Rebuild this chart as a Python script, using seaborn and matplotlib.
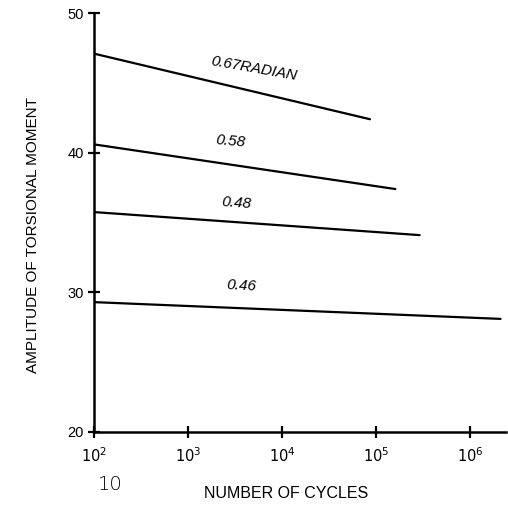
import matplotlib
matplotlib.use("Agg")
import matplotlib.pyplot as plt
import seaborn as sns
import pandas as pd
import numpy as np

sns.set_style("ticks")
plt.rcParams['font.family'] = ['Liberation Sans', 'DejaVu Sans']
plt.rcParams['text.color'] = 'black'
plt.rcParams['axes.labelcolor'] = 'black'

# Data
angles = ["0.67", "0.58", "0.48", "0.46"]
cycles_start = [1e2, 1e2, 1e2, 1e2]
cycles_end = [8.6e4, 1.6e5, 2.9e5, 2.1e6]
moment_start = [47.1, 40.6, 35.75, 29.3]
moment_end = [42.4, 37.4, 34.1, 28.1]
labels = ["0.67RADIAN", "0.58", "0.48", "0.46"]
label_x = [1.75e3, 2.8e3, 3.3e3, 3.7e3]
label_y = [46.6, 40.8, 36.4, 30.5]
label_rot = [-10, -5, -4, -3]
xticks = [1e2, 1e3, 1e4, 1e5, 1e6]
xticklabels = ["$10^{2}$", "$10^{3}$", "$10^{4}$", "$10^{5}$", "$10^{6}$"]
yticks = [20, 30, 40, 50]

rows = []
for a, x0, x1, y0, y1 in zip(angles, cycles_start, cycles_end, moment_start, moment_end):
    rows.append({"angle": a, "cycles": x0, "moment": y0})
    rows.append({"angle": a, "cycles": x1, "moment": y1})
df = pd.DataFrame(rows)

fig = plt.figure(figsize=(5.08, 5.05), dpi=100)
ax = fig.add_axes([0.185, 0.1446, 0.811, 0.8294])

sns.lineplot(data=df, x="cycles", y="moment", units="angle", estimator=None,
             color="black", linewidth=1.6, ax=ax, legend=False)
ax.set_xscale("log")
ax.set_xlim(1e2, 2.4e6)
ax.set_ylim(20, 50)
ax.set_xticks(xticks)
ax.set_xticklabels(xticklabels)
ax.set_yticks(yticks)
ax.minorticks_off()
ax.tick_params(axis="both", direction="inout", length=8, width=1.6, labelsize=10.5,
               colors="black", labelcolor="black")
ax.tick_params(axis="x", pad=6)
for s in ["top", "right"]:
    ax.spines[s].set_visible(False)
for s in ["left", "bottom"]:
    ax.spines[s].set_linewidth(1.8)
    ax.spines[s].set_color("black")

for t, x, y, r in zip(labels, label_x, label_y, label_rot):
    ax.text(x, y, t, style="italic", fontsize=11, rotation=r,
            ha="left" if t.endswith("RADIAN") else "center",
            va="center", rotation_mode="anchor", color="black")

ax.set_xlabel("NUMBER OF CYCLES", fontsize=11.5)
ax.xaxis.set_label_coords(0.466, -0.128)
ax.set_ylabel("AMPLITUDE OF TORSIONAL MOMENT", fontsize=11)
ax.yaxis.set_label_coords(-0.13, 0.47)
fig.text(0.217, 0.04, "10", fontsize=14, ha="center", va="center", family="DejaVu Sans", weight="light")

fig.savefig("out.png", dpi=100)
